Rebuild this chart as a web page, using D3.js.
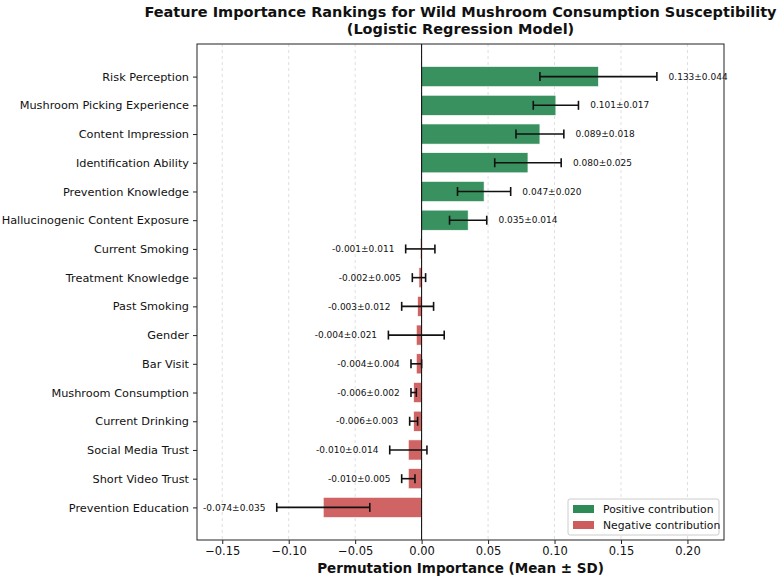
<!DOCTYPE html>
<html><head><meta charset="utf-8">
<script src="https://cdn.jsdelivr.net/npm/d3@7"></script>
<style>body{margin:0;background:#fff;} svg{display:block;font-family:"DejaVu Sans",sans-serif;}</style>
</head><body>
<script>
const features = ["Risk Perception","Mushroom Picking Experience","Content Impression","Identification Ability","Prevention Knowledge","Hallucinogenic Content Exposure","Current Smoking","Treatment Knowledge","Past Smoking","Gender","Bar Visit","Mushroom Consumption","Current Drinking","Social Media Trust","Short Video Trust","Prevention Education"];
const means = [0.133,0.101,0.089,0.080,0.047,0.035,-0.001,-0.002,-0.003,-0.004,-0.004,-0.006,-0.006,-0.010,-0.010,-0.074];
const sds = [0.044,0.017,0.018,0.025,0.020,0.014,0.011,0.005,0.012,0.021,0.004,0.002,0.003,0.014,0.005,0.035];
const xTicks = [-0.15,-0.10,-0.05,0.00,0.05,0.10,0.15,0.20];
const legendLabels = ["Positive contribution","Negative contribution"];

const W=780,H=577;
const L=197,R=724,T=44,B=540;
const posColor="#2e8b57", negColor="#cd5c5c";
const svg=d3.select("body").append("svg").attr("width",W).attr("height",H);

const x=d3.scaleLinear().domain([-0.169,0.2275]).range([L,R]);
const n=features.length;
const y=d3.scaleLinear().domain([-1.135,n-1+1.135]).range([T,B]);
const bh=y(0.7)-y(0);

// grid
svg.append("g").selectAll("line").data(xTicks).join("line")
  .attr("x1",d=>x(d)).attr("x2",d=>x(d)).attr("y1",T).attr("y2",B)
  .attr("stroke","#b0b0b0").attr("stroke-opacity",0.5).attr("stroke-width",0.8).attr("stroke-dasharray","3,3");

// bars
const data=features.map((f,i)=>({f,i,m:means[i],s:sds[i]}));
svg.append("g").selectAll("rect").data(data).join("rect")
  .attr("x",d=>x(Math.min(0,d.m))).attr("width",d=>Math.abs(x(d.m)-x(0)))
  .attr("y",d=>y(d.i)-bh/2).attr("height",bh)
  .attr("fill",d=>d.m>=0?posColor:negColor).attr("fill-opacity",0.95)
  .attr("stroke","#fff").attr("stroke-width",0.6);

// zero line
svg.append("line").attr("x1",x(0)).attr("x2",x(0)).attr("y1",T).attr("y2",B).attr("stroke","#000").attr("stroke-width",1);

// error bars
const eg=svg.append("g").attr("stroke","#111").attr("stroke-width",1.6);
data.forEach(d=>{
  const a=x(d.m-d.s), b=x(d.m+d.s), cy=y(d.i);
  eg.append("line").attr("x1",a).attr("x2",b).attr("y1",cy).attr("y2",cy);
  eg.append("line").attr("x1",a).attr("x2",a).attr("y1",cy-4.5).attr("y2",cy+4.5);
  eg.append("line").attr("x1",b).attr("x2",b).attr("y1",cy-4.5).attr("y2",cy+4.5);
});

// value labels
svg.append("g").selectAll("text").data(data).join("text")
  .attr("x",d=>d.m>=0?x(d.m+d.s+0.0088):x(d.m-d.s-0.0085))
  .attr("y",d=>y(d.i)).attr("dy","0.35em")
  .attr("text-anchor",d=>d.m>=0?"start":"end")
  .attr("font-size","9px").attr("fill","#111")
  .text(d=>d.m.toFixed(3)+"\u00b1"+d.s.toFixed(3));

// frame
svg.append("rect").attr("x",L).attr("y",T).attr("width",R-L).attr("height",B-T).attr("fill","none").attr("stroke","#222").attr("stroke-width",1);

// x axis
const xa=svg.append("g").attr("transform",`translate(0,${B})`)
  .call(d3.axisBottom(x).tickValues(xTicks).tickFormat(d=>d3.format(".2f")(d).replace("-","\u2212")).tickSize(4).tickPadding(3));
xa.select(".domain").remove();
xa.selectAll("text").attr("font-size","11.5px").attr("fill","#111").attr("font-family","DejaVu Sans");
xa.selectAll("line").attr("stroke","#222");

// y axis
const ya=svg.append("g").attr("transform",`translate(${L},0)`)
  .call(d3.axisLeft(y).tickValues(d3.range(n)).tickFormat(i=>features[i]).tickSize(4).tickPadding(4));
ya.select(".domain").remove();
ya.selectAll("text").attr("font-size","11.3px").attr("fill","#111").attr("font-family","DejaVu Sans");
ya.selectAll("line").attr("stroke","#222");

// title
const cx=(L+R)/2;
svg.append("text").attr("x",cx).attr("y",17).attr("text-anchor","middle").attr("font-weight","bold").attr("font-size","14.5px").attr("fill","#111")
  .text("Feature Importance Rankings for Wild Mushroom Consumption Susceptibility");
svg.append("text").attr("x",cx).attr("y",34).attr("text-anchor","middle").attr("font-weight","bold").attr("font-size","14.5px").attr("fill","#111")
  .text("(Logistic Regression Model)");
// x label
svg.append("text").attr("x",cx).attr("y",573).attr("text-anchor","middle").attr("font-weight","bold").attr("font-size","13.5px").attr("fill","#111")
  .text("Permutation Importance (Mean \u00b1 SD)");

// legend
const lg=svg.append("g");
const lx=568, ly=499;
lg.append("rect").attr("x",lx).attr("y",ly).attr("width",151).attr("height",36).attr("rx",2).attr("fill","#fff").attr("fill-opacity",0.8).attr("stroke","#ccc");
[posColor,negColor].forEach((c,k)=>{
  lg.append("rect").attr("x",lx+5).attr("y",ly+6+k*16).attr("width",21).attr("height",8).attr("fill",c);
  lg.append("text").attr("x",lx+35).attr("y",ly+10+k*16).attr("dy","0.35em").attr("font-size","10.8px").attr("fill","#111").text(legendLabels[k]);
});
</script>
</body></html>
